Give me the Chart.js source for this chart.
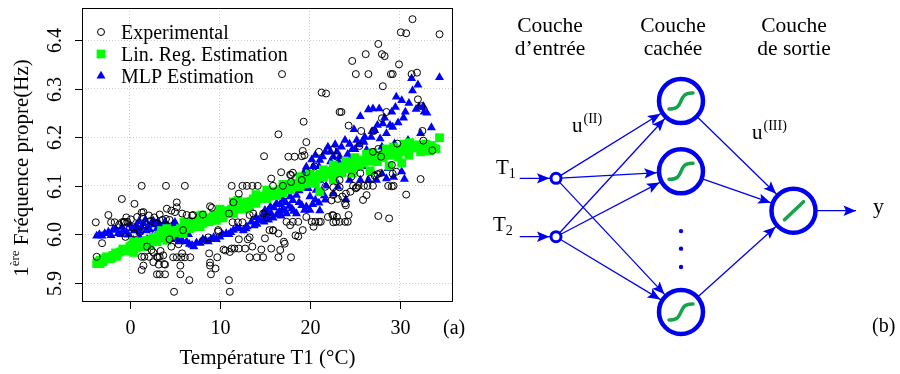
<!DOCTYPE html>
<html>
<head>
<meta charset="utf-8">
<script src="https://cdn.jsdelivr.net/npm/chart.js@4.4.0/dist/chart.umd.min.js"></script>
<style>
  body { margin: 0; background: #fff; }
  #wrap { position: relative; width: 900px; height: 374px; }
  #left { position: absolute; left: 0; top: 0; }
  #right { position: absolute; left: 460px; top: 0; z-index: 2; }
</style>
</head>
<body>
<div id="wrap">
  <canvas id="left" width="480" height="374"></canvas>
  <canvas id="right" width="440" height="374"></canvas>
</div>
<script>
// ---- panel (a) data : temperature T1 (°C) and 1st natural frequency (Hz)
const expT = [31.4,30.1,30.7,34.4,27.6,24.7,26.2,28.0,28.3,29.9,16.9,25.1,26.5,29.0,29.2,31.3,31.9,28.1,21.3,21.8,
  23.3,23.5,32.0,32.4,28.5,19.3,24.3,28.0,32.5,25.7,27.1,16.5,29.7,19.6,32.6,14.9,17.6,19.2,19.1,27.9,
  33.6,32.3,16.8,18.1,17.9,30.7,27.6,28.8,29.1,29.6,27.5,18.3,22.5,23.0,21.0,25.5,20.5,
  -3.8,-3.1,-3.7,-0.9,0.5,-2.4,-2.1,-1.7,-0.7,-0.3,-0.4,0.8,1.4,1.5,1.3,4.0,6.1,4.1,4.6,5.0,
  5.2,4.0,4.4,5.2,5.8,6.3,7.0,9.1,9.8,1.3,1.6,2.1,3.0,3.3,4.8,5.2,5.7,6.1,6.7,1.3,
  1.5,3.8,3.0,3.3,3.9,2.6,2.4,3.4,5.6,6.6,4.9,4.4,5.4,5.9,1.1,0.5,-0.5,-0.9,-0.6,1.3,
  2.1,2.7,3.3,6.9,8.1,3.7,3.1,2.6,4.6,5.6,8.8,8.9,5.8,1.9,3.2,3.9,2.3,2.8,3.6,0.1,-1.2,1.8,0.3,
  11.0,11.1,8.9,9.5,9.0,9.7,8.1,10.4,11.1,11.3,11.6,12.1,12.8,13.3,14.1,14.8,13.6,14.6,15.7,16.5,
  17.9,16.7,17.1,17.2,18.4,19.2,16.5,12.1,13.1,11.4,12.0,12.5,12.1,11.3,12.5,13.0,13.6,14.2,15.9,17.0,
  11.0,11.5,13.3,13.7,14.8,15.2,15.7,17.9,15.5,15.9,17.4,18.1,18.7,19.6,20.2,20.6,21.0,21.2,20.4,19.1,
  19.6,17.8,19.4,8.9,15.9,18.7,15.0,13.3,10.6,9.8,8.7,17.8,
  22.0,22.5,23.0,22.9,23.3,23.9,24.2,23.1,23.6,24.0,24.5,25.1,24.8,25.4,26.0,26.4,27.0,28.7,29.3,25.9,
  26.3,23.3,24.6,25.6,24.0,22.4,26.7,27.2,27.8,29.1,27.6,27.0,24.3,22.6,21.7,22.6,22.6,23.9,25.2,23.3,
  22.6,29.2];
const expF = [6.443,6.416,6.414,6.412,6.392,6.357,6.371,6.371,6.367,6.350,6.330,6.330,6.330,6.330,6.330,6.330,6.333,6.305,6.292,6.290,
  6.252,6.252,6.278,6.264,6.252,6.232,6.224,6.239,6.213,6.213,6.213,6.206,6.187,6.190,6.193,6.161,6.160,6.172,6.161,6.160,
  6.173,6.114,6.128,6.127,6.122,6.082,6.038,6.033,6.099,6.129,6.124,6.160,6.174,6.160,6.170,6.182,6.140,
  6.025,5.982,5.954,6.073,6.063,6.040,6.025,6.025,6.026,6.026,6.035,6.036,6.036,6.046,6.100,6.100,6.100,6.053,6.049,6.046,
  6.056,6.032,6.030,6.066,6.043,6.040,6.040,6.055,6.009,5.954,5.954,5.954,5.954,5.954,5.953,5.953,5.953,5.953,5.953,5.927,
  5.936,5.939,5.918,5.918,5.918,5.943,5.968,5.966,5.918,5.906,5.882,5.990,5.980,6.009,6.005,6.002,5.995,6.025,6.025,6.045,
  6.039,6.035,6.041,6.039,6.041,5.957,5.953,5.963,5.975,5.936,5.961,5.936,5.961,5.975,5.938,5.938,6.028,6.024,6.030,6.031,6.020,6.020,6.015,
  5.906,5.882,5.942,5.930,5.918,5.953,5.987,5.969,5.964,5.971,5.971,5.971,5.971,5.953,5.953,5.953,5.975,5.969,5.971,5.953,
  5.953,5.968,5.985,5.981,5.998,6.009,6.002,5.990,5.990,6.025,6.025,6.025,6.084,6.100,6.100,6.100,6.100,6.100,6.100,6.100,
  6.043,6.066,6.040,6.043,6.043,6.036,6.115,6.108,6.009,6.009,6.026,6.026,6.026,6.036,6.026,6.026,6.026,6.026,6.016,6.112,
  6.128,6.123,6.163,6.058,6.008,5.996,5.992,5.994,5.967,6.006,5.994,6.019,
  6.036,6.040,6.036,6.026,6.026,6.026,6.026,6.073,6.078,6.084,6.088,6.095,6.100,6.100,6.100,6.100,6.100,6.100,6.100,6.071,
  6.081,6.112,6.119,6.126,6.060,6.070,6.115,6.121,6.126,6.143,6.176,6.170,6.040,6.081,6.098,6.039,6.025,6.064,6.097,6.097,
  6.097,6.125];

const linT = [-3.7,-3.3,-2.6,-1.9,-1.1,-0.6,0.0,0.4,1.1,1.9,2.6,3.3,4.1,4.8,5.6,6.3,7.0,7.8,8.5,9.3,
  10.0,10.7,11.5,12.2,13.0,13.7,14.4,15.2,15.9,16.7,17.4,18.1,18.9,19.6,20.4,21.1,21.9,22.6,23.3,24.1,
  24.8,25.6,26.3,27.0,27.8,28.5,29.3,30.0,30.7,31.5,32.2,33.0,33.7,34.4,
  30.2,32.3,31.0,26.7,28.8,24.7,22.6,20.6,21.1,18.9,17.0,15.2,13.3,11.5,9.6,7.8,5.9,4.1,2.2,0.4,-1.5,-3.3,
  0.4,4.1,7.8,11.5,15.2,18.9,22.6,26.3,29.3,31.1,
  1.5,3.0,6.8,8.8,10.3,12.7,14.0,16.3,17.8,19.5,23.5,25.5,27.5,29.8,32.7,33.3,34.0,
  -3.0,-2.2,-1.4,-0.3,0.7,1.4,2.3,2.9,3.7,4.5,5.2,5.9,6.6,7.3,8.1,8.9,9.6,10.4,11.1,11.8,
  12.5,13.3,14.0,14.7,15.5,16.2,16.9,17.6,18.4,19.2,19.9,20.7,21.5,22.2,22.9,23.7,24.4,25.2,25.9,26.6,
  27.3,28.1,28.8,29.6,30.4,31.8,32.9,33.5,
  20.0,21.5,24.0,25.0,27.0,28.5,30.5,17.0,14.0,12.0,10.0,8.0,6.0,3.5,
  -3.5,-2.9,-2.0,-1.6,-0.8,0.2,0.9,1.7,2.5,3.2,3.9,4.7,5.4,6.1,6.9,7.6,8.3,9.1,9.9,10.6,
  11.3,12.0,12.8,13.5,14.2,15.0,15.7,16.5,17.2,18.0,18.7,19.4,20.2,21.0,21.7,22.4,23.1,23.9,24.6,25.4,
  26.1,26.8,27.6,28.3,29.0,29.8,30.6,31.3];
const linF = [5.940,5.947,5.954,5.957,5.964,5.968,5.975,5.981,5.985,5.988,5.994,5.999,6.002,6.008,6.012,6.021,6.026,6.029,6.033,6.040,
  6.043,6.049,6.057,6.062,6.067,6.073,6.078,6.082,6.088,6.093,6.098,6.104,6.108,6.113,6.119,6.124,6.129,6.134,6.139,6.143,
  6.147,6.152,6.156,6.160,6.163,6.167,6.170,6.176,6.180,6.184,6.184,6.180,6.177,6.199,
  6.147,6.170,6.163,6.131,6.141,6.126,6.113,6.105,6.088,6.098,6.086,6.074,6.057,6.043,6.029,6.016,6.002,5.988,5.978,5.963,5.955,5.940,
  5.985,6.012,6.038,6.067,6.091,6.119,6.143,6.165,6.180,6.189,
  5.975,5.985,6.015,6.026,6.034,6.052,6.064,6.080,6.092,6.104,6.127,6.140,6.150,6.160,6.175,6.172,6.176,
  5.944,5.950,5.959,5.966,5.972,5.980,5.986,5.992,5.994,5.998,6.004,6.010,6.012,6.019,6.023,6.031,6.037,6.040,6.046,6.052,
  6.058,6.062,6.070,6.074,6.079,6.085,6.089,6.094,6.099,6.104,6.108,6.114,6.118,6.124,6.129,6.134,6.137,6.143,6.148,6.151,
  6.155,6.158,6.163,6.165,6.170,6.178,6.186,6.183,
  6.124,6.133,6.150,6.158,6.168,6.176,6.186,6.103,6.082,6.070,6.052,6.040,6.025,6.008,
  5.944,5.950,5.952,5.962,5.970,5.978,5.980,5.985,5.990,5.995,6.000,6.004,6.008,6.016,6.022,6.026,6.030,6.035,6.040,6.045,
  6.052,6.057,6.063,6.068,6.073,6.078,6.083,6.089,6.094,6.099,6.104,6.109,6.115,6.120,6.125,6.130,6.134,6.139,6.143,6.147,
  6.152,6.156,6.160,6.164,6.168,6.172,6.176,6.180];

const mlpT = [-3.7,-3.1,-2.4,-1.9,-1.3,-0.7,-0.2,0.2,0.7,1.1,1.5,2.0,2.4,3.0,3.3,3.9,4.3,4.8,5.4,6.1,
  0.4,1.1,1.9,3.0,4.1,5.2,6.3,6.9,7.4,8.1,8.7,9.3,10.0,10.7,11.5,12.2,13.0,13.5,14.1,14.6,
  15.2,15.7,16.3,16.9,17.4,18.0,18.5,19.1,19.6,20.0,20.6,21.1,21.7,
  15.0,15.6,16.3,17.0,17.8,18.5,18.9,19.3,19.6,20.2,20.6,21.1,21.7,22.0,22.6,23.0,23.5,23.9,24.4,24.9,
  25.2,25.6,25.9,26.5,27.0,27.7,27.2,27.8,28.1,28.5,29.1,29.2,29.8,29.6,30.2,30.6,31.3,31.4,32.0,32.1,
  32.6,32.7,33.5,34.4,32.3,
  22.6,23.1,24.0,24.4,25.6,26.5,27.4,28.5,30.2,28.7,29.4,30.9,26.3,27.4,24.4,22.6,21.1,20.7,20.0,
  0.9,1.8,2.7,3.6,4.5,-1.0,2.5,3.6,5.8,7.8,9.0,11.0,12.6,14.3,15.4,16.6,17.7,18.8,19.8,21.4,
  22.3,23.2,24.2,25.0,26.0,26.8,28.0,
  -3.4,-2.8,-2.1,-1.6,-0.9,-0.4,0.0,0.5,1.0,1.3,1.7,2.2,2.6,3.1,3.5,4.0,4.6,5.0,5.7,6.5,
  1.5,2.8,4.6,5.5,6.6,7.1,8.4,9.6,10.3,11.2,11.9,12.9,13.8,14.9,15.9,16.8,17.2,18.2,19.4,20.3,21.0,21.6,
  14.0,14.8,15.3,16.0,16.7,17.3,18.1,18.8,19.2,19.8,20.4,21.0,21.4,22.3,22.8,23.3,24.7,25.4,26.1,26.9,
  27.5,28.3,28.9,29.5,30.4,31.0,31.8,33.0,
  21.8,22.9,23.6,24.8,25.8,26.9,28.0,29.3,30.5];
const mlpF = [5.997,5.997,6.005,6.009,6.002,6.009,5.999,6.012,6.019,6.005,6.023,6.016,6.024,6.012,6.021,6.026,6.016,6.021,6.009,6.005,
  5.988,5.994,5.990,6.002,5.995,5.992,5.985,5.978,5.983,5.990,5.985,5.994,5.995,6.002,6.009,6.012,6.016,6.026,6.021,6.029,
  6.036,6.043,6.040,6.050,6.043,6.053,6.043,6.060,6.057,6.078,6.071,6.049,6.071,
  6.050,6.057,6.064,6.071,6.078,6.081,6.108,6.126,6.139,6.154,6.163,6.153,6.170,6.180,6.160,6.170,6.180,6.194,6.186,6.216,
  6.194,6.243,6.194,6.257,6.259,6.259,6.214,6.197,6.228,6.208,6.252,6.221,6.230,6.283,6.276,6.252,6.321,6.296,6.308,6.263,
  6.264,6.252,6.220,6.323,6.208,
  6.084,6.098,6.072,6.112,6.112,6.112,6.112,6.115,6.129,6.136,6.187,6.194,6.174,6.160,6.153,6.132,6.112,6.091,6.050,
  6.012,6.008,6.020,6.010,6.005,6.000,5.995,5.990,5.988,5.982,5.990,6.000,6.008,6.030,6.030,6.047,6.058,6.066,6.095,6.130,
  6.150,6.150,6.165,6.175,6.190,6.200,6.180,
  6.000,6.002,5.998,6.012,6.015,6.005,6.020,6.008,6.027,6.015,6.030,6.010,6.028,6.025,6.015,6.020,6.012,6.025,6.015,6.000,
  5.985,5.992,5.990,5.985,5.980,5.975,5.988,5.990,6.000,6.004,6.014,6.012,6.018,6.026,6.034,6.038,6.050,6.048,6.050,6.062,6.065,6.080,
  6.035,6.042,6.048,6.055,6.062,6.066,6.070,6.090,6.098,6.120,6.140,6.140,6.160,6.170,6.185,6.160,6.175,6.185,6.200,6.212,
  6.225,6.240,6.225,6.262,6.240,6.270,6.258,6.250,
  6.100,6.110,6.125,6.130,6.140,6.130,6.125,6.118,6.114];

const seriesNames = ['Experimental', 'Lin. Reg. Estimation', 'MLP Estimation'];
const xRange = [-5.33, 35.9];
const yRange = [5.861, 6.466];

// ---- panel (b) data : network layout in diagram units
const layerX = [0, 1, 1.9];
const inputY = [1.1, 1.93];
const hiddenY = [0, 1, 3];
const outputY = [1.56];
const dotsY = [1.85, 2.1, 2.36];
const inStubX = -0.29;
const outStubX = 2.4;
const headerX = [-0.048, 0.936, 1.904];
const headerLines = [['Couche', 'd\u2019entr\u00e9e'], ['Couche', 'cach\u00e9e'], ['Couche', 'de sortie']];

const SERIF = "'Liberation Serif', 'Times New Roman', serif";
const BLUE = '#0000f0';
const GLYPH = '#16a34a';
Chart.defaults.font.family = SERIF;

function pairs(xs, ys) { return xs.map((v, i) => ({ x: v, y: ys[i] })); }

// legend, box, ticks and titles of panel (a)
const plotDecor = {
  id: 'plotDecor',
  afterDraw(chart) {
    const { ctx, chartArea: a, scales: { x, y } } = chart;
    ctx.save();
    ctx.strokeStyle = '#000';
    ctx.lineWidth = 1;
    ctx.strokeRect(Math.round(a.left) + 0.5, Math.round(a.top) + 0.5,
      Math.round(a.right - a.left) - 1, Math.round(a.bottom - a.top) - 1);
    ctx.fillStyle = '#000';
    ctx.font = '20px ' + SERIF;
    ctx.textAlign = 'center';
    ctx.textBaseline = 'alphabetic';
    x.ticks.forEach(t => {
      const px = Math.round(x.getPixelForValue(t.value)) + 0.5;
      ctx.beginPath(); ctx.moveTo(px, a.bottom); ctx.lineTo(px, a.bottom + 7); ctx.stroke();
      ctx.fillText(String(Math.round(t.value)), px, a.bottom + 32);
    });
    y.ticks.forEach(t => {
      const py = Math.round(y.getPixelForValue(t.value)) + 0.5;
      ctx.beginPath(); ctx.moveTo(a.left - 7, py); ctx.lineTo(a.left, py); ctx.stroke();
      ctx.save();
      ctx.translate(a.left - 21, py);
      ctx.rotate(-Math.PI / 2);
      ctx.fillText(t.value.toFixed(1), 0, 0);
      ctx.restore();
    });
    // x title
    ctx.font = '21px ' + SERIF;
    ctx.fillText('Temp\u00e9rature T1 (\u00b0C)', (a.left + a.right) / 2, a.bottom + 62);
    // y title with superscript
    ctx.save();
    ctx.translate(28, 168);
    ctx.rotate(-Math.PI / 2);
    ctx.textAlign = 'left';
    const big = '21px ' + SERIF, small = '13px ' + SERIF;
    ctx.font = big; const w1 = ctx.measureText('1').width;
    const w3 = ctx.measureText(' Fr\u00e9quence propre(Hz)').width;
    ctx.font = small; const w2 = ctx.measureText('\u00e8re').width;
    let sx = -(w1 + w2 + w3) / 2;
    ctx.font = big; ctx.fillText('1', sx, 0); sx += w1;
    ctx.font = small; ctx.fillText('\u00e8re', sx, -9); sx += w2;
    ctx.font = big; ctx.fillText(' Fr\u00e9quence propre(Hz)', sx, 0);
    ctx.restore();
    // panel tag
    ctx.font = '20px ' + SERIF;
    ctx.textAlign = 'left';
    ctx.fillText('(a)', 443, 334);
    // legend
    chart.data.datasets.forEach((ds, i) => {
      const ly = a.top + 24 + 22 * i;
      ctx.fillStyle = ds.backgroundColor;
      ctx.strokeStyle = ds.borderColor;
      ctx.lineWidth = ds.borderWidth;
      Chart.helpers.drawPoint(ctx, { pointStyle: ds.pointStyle, radius: ds.pointRadius,
        borderWidth: ds.borderWidth, rotation: 0 }, a.left + 19, ly);
      ctx.fillStyle = '#000';
      ctx.font = '20px ' + SERIF;
      ctx.fillText(ds.label, a.left + 39, ly + 6.5);
    });
    ctx.restore();
  }
};

new Chart(document.getElementById('left'), {
  type: 'scatter',
  data: {
    datasets: [
      { label: seriesNames[0], data: pairs(expT, expF), pointStyle: 'circle', pointRadius: 3.5,
        backgroundColor: 'rgba(0,0,0,0)', borderColor: '#000', borderWidth: 1, order: 0 },
      { label: seriesNames[1], data: pairs(linT, linF), pointStyle: 'rect', pointRadius: 6.2,
        backgroundColor: '#00ff00', borderColor: '#00ff00', borderWidth: 0, order: 1 },
      { label: seriesNames[2], data: pairs(mlpT, mlpF), pointStyle: 'triangle', pointRadius: 5.2,
        backgroundColor: '#0000ff', borderColor: '#0000ff', borderWidth: 0, order: 2 }
    ]
  },
  options: {
    responsive: false,
    animation: false,
    layout: { autoPadding: false, padding: { left: 0, top: 8, right: 27, bottom: 0 } },
    plugins: { legend: { display: false }, tooltip: { enabled: false } },
    scales: {
      x: {
        min: xRange[0], max: xRange[1],
        ticks: { stepSize: 10, includeBounds: false, display: false },
        grid: { color: '#cccccc', drawTicks: false },
        border: { display: false, dash: [1, 2] },
        afterFit(s) { s.height = 72; }
      },
      y: {
        min: yRange[0], max: yRange[1],
        ticks: { stepSize: 0.1, includeBounds: false, display: false },
        grid: { color: '#cccccc', drawTicks: false },
        border: { display: false, dash: [1, 2] },
        afterFit(s) { s.width = 82; }
      }
    }
  },
  plugins: [plotDecor]
});

// ---- panel (b): network diagram
const edges = [];
inputY.forEach(iy => edges.push({ from: { x: inStubX, y: iy }, to: { x: layerX[0], y: iy }, gap: 6.5 }));
inputY.forEach(iy => hiddenY.forEach(hy =>
  edges.push({ from: { x: layerX[0], y: iy }, to: { x: layerX[1], y: hy }, gap: 24.2 })));
hiddenY.forEach(hy => edges.push({ from: { x: layerX[1], y: hy }, to: { x: layerX[2], y: outputY[0] }, gap: 24.2 }));
edges.push({ from: { x: layerX[2], y: outputY[0] }, to: { x: outStubX, y: outputY[0] }, gap: 0 });

const edgeSets = edges.map(e => ({
  data: [e.from, e.to], showLine: true, pointRadius: 0, borderColor: BLUE,
  borderWidth: 1.3, arrowGap: e.gap, order: 5
}));

const netDecor = {
  id: 'netDecor',
  afterDatasetsDraw(chart) {
    const { ctx, scales: { x, y } } = chart;
    ctx.save();
    // arrowheads
    ctx.fillStyle = BLUE;
    chart.data.datasets.forEach((ds, i) => {
      if (ds.arrowGap === undefined) return;
      const pts = chart.getDatasetMeta(i).data;
      const p0 = pts[0], p1 = pts[1];
      const dx = p1.x - p0.x, dy = p1.y - p0.y, L = Math.hypot(dx, dy);
      const ux = dx / L, uy = dy / L;
      const tx = p1.x - ux * ds.arrowGap, ty = p1.y - uy * ds.arrowGap;
      const len = 12.5, hw = 5.2;
      ctx.beginPath();
      ctx.moveTo(tx, ty);
      ctx.lineTo(tx - ux * len - uy * hw, ty - uy * len + ux * hw);
      ctx.lineTo(tx - ux * len * 0.8, ty - uy * len * 0.8);
      ctx.lineTo(tx - ux * len + uy * hw, ty - uy * len - ux * hw);
      ctx.closePath();
      ctx.fill();
    });
    // activation glyphs
    ctx.strokeStyle = GLYPH;
    ctx.lineWidth = 3.5;
    ctx.lineCap = 'round';
    chart.getDatasetMeta(edgeSets.length + 1).data.forEach(p => {
      ctx.beginPath();
      ctx.moveTo(p.x - 12, p.y + 8);
      ctx.bezierCurveTo(p.x + 5, p.y + 9, p.x - 5, p.y - 9, p.x + 12, p.y - 8);
      ctx.stroke();
    });
    chart.getDatasetMeta(edgeSets.length + 2).data.forEach(p => {
      ctx.beginPath();
      ctx.moveTo(p.x - 9, p.y + 9);
      ctx.lineTo(p.x + 10, p.y - 9);
      ctx.stroke();
    });
    // texts
    ctx.fillStyle = '#000';
    ctx.textBaseline = 'alphabetic';
    const put = (s, vx, vy, size, align, dx = 0, dy = 0) => {
      ctx.font = size + 'px ' + SERIF;
      ctx.textAlign = align;
      ctx.fillText(s, x.getPixelForValue(vx) + dx, y.getPixelForValue(vy) + dy);
      return ctx.measureText(s).width;
    };
    headerLines.forEach((lines, i) => {
      put(lines[0], headerX[i], -0.986, 21.5, 'center');
      put(lines[1], headerX[i], -0.654, 21.5, 'center');
    });
    const tX = [-0.48, -0.504], tY = [1.04, 1.85];
    ['1', '2'].forEach((sub, i) => {
      const w = put('T', tX[i], tY[i], 21, 'left');
      put(sub, tX[i], tY[i], 14, 'left', w, 4);
    });
    let w = put('u', 0.128, 0.441, 21, 'left');
    put('(II)', 0.128, 0.441, 14, 'left', w + 1, -9);
    w = put('u', 1.568, 0.54, 21, 'left');
    put('(III)', 1.568, 0.54, 14, 'left', w + 1, -9);
    put('y', 2.536, 1.593, 22, 'left');
    put('(b)', 2.528, 3.286, 20, 'left');
    ctx.restore();
  }
};

new Chart(document.getElementById('right'), {
  type: 'scatter',
  data: {
    datasets: edgeSets.concat([
      { data: inputY.map(v => ({ x: layerX[0], y: v })), pointRadius: 5, borderWidth: 3,
        borderColor: BLUE, backgroundColor: '#fff', order: 0 },
      { data: hiddenY.map(v => ({ x: layerX[1], y: v })), pointRadius: 22, borderWidth: 4.5,
        borderColor: BLUE, backgroundColor: '#fff', order: 0 },
      { data: outputY.map(v => ({ x: layerX[2], y: v })), pointRadius: 22, borderWidth: 4.5,
        borderColor: BLUE, backgroundColor: '#fff', order: 0 },
      { data: dotsY.map(v => ({ x: layerX[1], y: v })), pointRadius: 2.2, borderWidth: 0,
        borderColor: BLUE, backgroundColor: BLUE, order: 0 }
    ])
  },
  options: {
    responsive: false,
    animation: false,
    layout: { autoPadding: false, padding: 0 },
    plugins: { legend: { display: false }, tooltip: { enabled: false } },
    scales: {
      x: { type: 'linear', display: false, min: -0.768, max: 2.752 },
      y: { type: 'linear', display: false, min: -1.437, max: 3.883, reverse: true }
    }
  },
  plugins: [netDecor]
});
</script>
</body>
</html>
